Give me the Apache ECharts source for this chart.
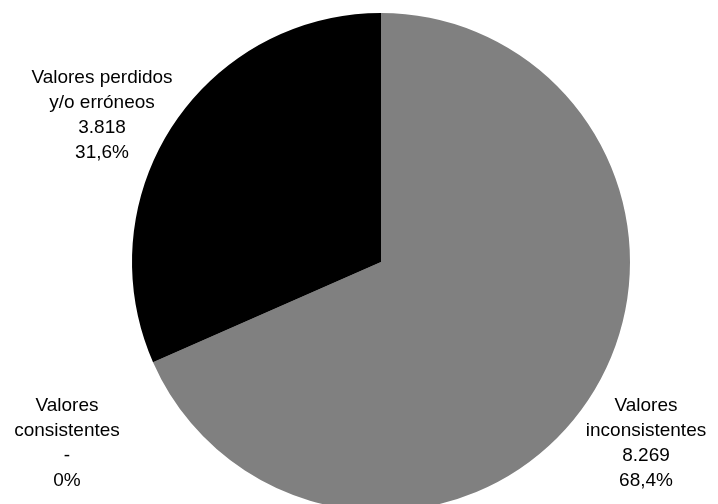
<!DOCTYPE html>
<html><head><meta charset="utf-8">
<script src="https://cdn.jsdelivr.net/npm/echarts@6/dist/echarts.min.js"></script>
<style>html,body{margin:0;padding:0;background:#fff}#c{width:718px;height:504px}</style>
</head><body><div id="c"></div>
<script>
const categories = ['Valores inconsistentes', 'Valores consistentes', 'Valores perdidos y/o erróneos'];
const labelNames = ['Valores\ninconsistentes', 'Valores\nconsistentes', 'Valores perdidos\ny/o erróneos'];
const values = [8269, 0, 3818];
const colors = ['#808080', '#d9d9d9', '#000000'];

const total = values.reduce((a, b) => a + b, 0);
function fmtNum(v) {
  if (v === 0) return '-';
  return String(v).replace(/\B(?=(\d{3})+(?!\d))/g, '.');
}
function fmtPct(v) {
  const p = v / total * 100;
  if (v === 0) return '0%';
  return p.toFixed(1).replace('.', ',') + '%';
}
const labelPos = [[646, 443], [67, 443], [102, 115]];

const chart = echarts.init(document.getElementById('c'), null, {renderer: 'canvas'});
chart.setOption({
  animation: false,
  series: [{
    type: 'pie',
    center: [381, 262],
    radius: [0, 249],
    startAngle: 90,
    clockwise: true,
    avoidLabelOverlap: false,
    data: categories.map((c, i) => ({
      name: c, value: values[i],
      itemStyle: {color: colors[i]}
    })),
    label: {
      show: true,
      position: 'outside',
      color: '#000',
      fontFamily: 'Liberation Sans',
      fontSize: 19,
      lineHeight: 25,
      align: 'center',
      formatter: p => labelNames[p.dataIndex] + '\n' + fmtNum(p.value) + '\n' + fmtPct(p.value)
    },
    labelLine: {show: false},
    labelLayout: p => ({
      x: labelPos[p.dataIndex][0],
      y: labelPos[p.dataIndex][1],
      align: 'center',
      verticalAlign: 'middle',
      hideOverlap: false
    }),
    emphasis: {disabled: true}
  }]
});
</script></body></html>
